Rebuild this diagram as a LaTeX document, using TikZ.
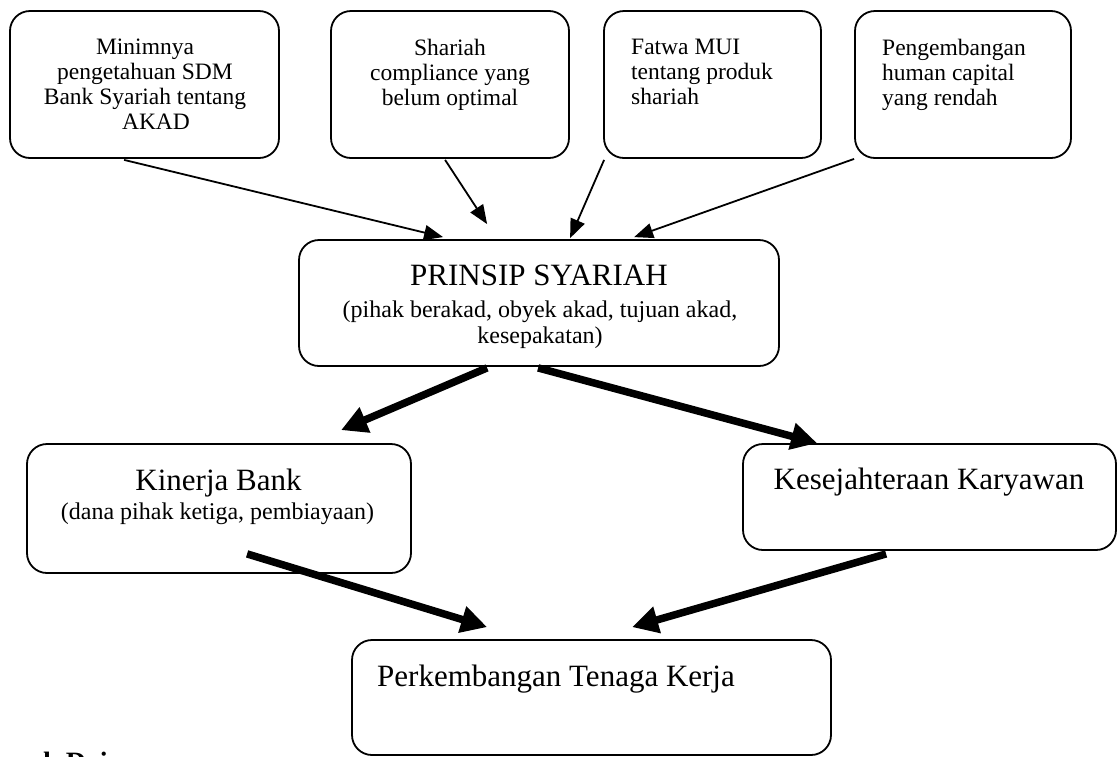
\documentclass[tikz,border=0pt]{standalone}
\usepackage{fontspec}
\setmainfont{Liberation Serif}
\usetikzlibrary{arrows.meta,calc}
\tikzset{
  box/.style={draw, line width=1.8pt, rounded corners=20pt, inner sep=0pt},
  smalltxt/.style={inner sep=0pt, font=\fontsize{23.5}{25}\selectfont},
  subtxt/.style={inner sep=0pt, font=\fontsize{24}{26}\selectfont, align=center},
  bigtxt/.style={inner sep=0pt, font=\fontsize{31}{33}\selectfont},
  thinarrow/.style={line width=1.8pt, -{Triangle[length=19pt,width=15pt]}},
  thickarrow/.style={line width=7.5pt, -{Triangle[length=26pt,width=26pt]}},
}
\begin{document}
\begin{tikzpicture}[x=1pt,y=-1pt]
\useasboundingbox (0,0) rectangle (1118,756);
% boxes
\node[box, minimum width=269pt, minimum height=147pt] (b1) at (144.5,84.5) {};
\node[box, minimum width=238pt, minimum height=147pt] (b2) at (450,84.5) {};
\node[box, minimum width=217pt, minimum height=147pt] (b3) at (712.5,84.5) {};
\node[box, minimum width=216pt, minimum height=147pt] (b4) at (963,84.5) {};
\node[box, minimum width=480pt, minimum height=126pt] (ps) at (539,303) {};
\node[box, minimum width=384pt, minimum height=129pt] (kb) at (219,508.5) {};
\node[box, minimum width=373pt, minimum height=106pt] (kk) at (929.5,497) {};
\node[box, minimum width=479pt, minimum height=115pt] (pt) at (591.5,697.5) {};
% texts
\node[smalltxt, align=center, anchor=north] (t1) at (145,38.5) {Minimnya\\pengetahuan SDM\\Bank Syariah tentang\\\hspace*{22pt}AKAD};
\node[smalltxt, align=center, anchor=north] (t2) at (450,38.5) {Shariah\\compliance yang\\belum optimal};
\node[smalltxt, align=left, anchor=north west] (t3) at (631,38.5) {Fatwa MUI\\tentang produk\\shariah};
\node[smalltxt, align=left, anchor=north west] (t4) at (882,38.5) {Pengembangan\\human capital\\yang rendah};
\node[bigtxt, anchor=base] (pst) at (539,285) {PRINSIP SYARIAH};
\node[subtxt, anchor=north] (pss) at (540,300.3) {(pihak berakad, obyek akad, tujuan akad,\\kesepakatan)};
\node[bigtxt, anchor=base] (kbt) at (218.5,490.7) {Kinerja Bank};
\node[subtxt, anchor=base] (kbs) at (217.5,519) {(dana pihak ketiga, pembiayaan)};
\node[bigtxt, anchor=base] (kkt) at (929,489) {Kesejahteraan Karyawan};
\node[bigtxt, anchor=base west] (ptt) at (377,686.7) {Perkembangan Tenaga Kerja};
\begin{scope}
\clip (0,0) rectangle (1118,756);
\node[anchor=north west, inner sep=0pt, font=\bfseries\fontsize{28}{30}\selectfont] (dai) at (43,752) {k Dai};
\end{scope}
% thin arrows
\draw[thinarrow] ($(b1.south west)+(115,1)$) -- ($(ps.north west)+(145,-2)$);
\draw[thinarrow] ($(b2.south west)+(115,1)$) -- ($(ps.north west)+(189,-15)$);
\draw[thinarrow] ($(b3.south west)+(1,1)$) -- ($(ps.north west)+(272,-1)$);
\draw[thinarrow] ($(b4.south west)+(0,0)$) -- ($(ps.north west)+(336,-2)$);
% thick arrows
\draw[thickarrow] ($(ps.south west)+(189,1)$) -- ($(kb.north west)+(315,-13)$);
\draw[thickarrow] ($(ps.south west)+(240,1)$) -- ($(kk.north west)+(75,0)$);
\draw[thickarrow] ($(kb.south west)+(221,-20)$) -- ($(pt.north west)+(136,-12)$);
\draw[thickarrow] ($(kk.south west)+(144,3)$) -- ($(pt.north west)+(281,-12)$);
\end{tikzpicture}
\end{document}
